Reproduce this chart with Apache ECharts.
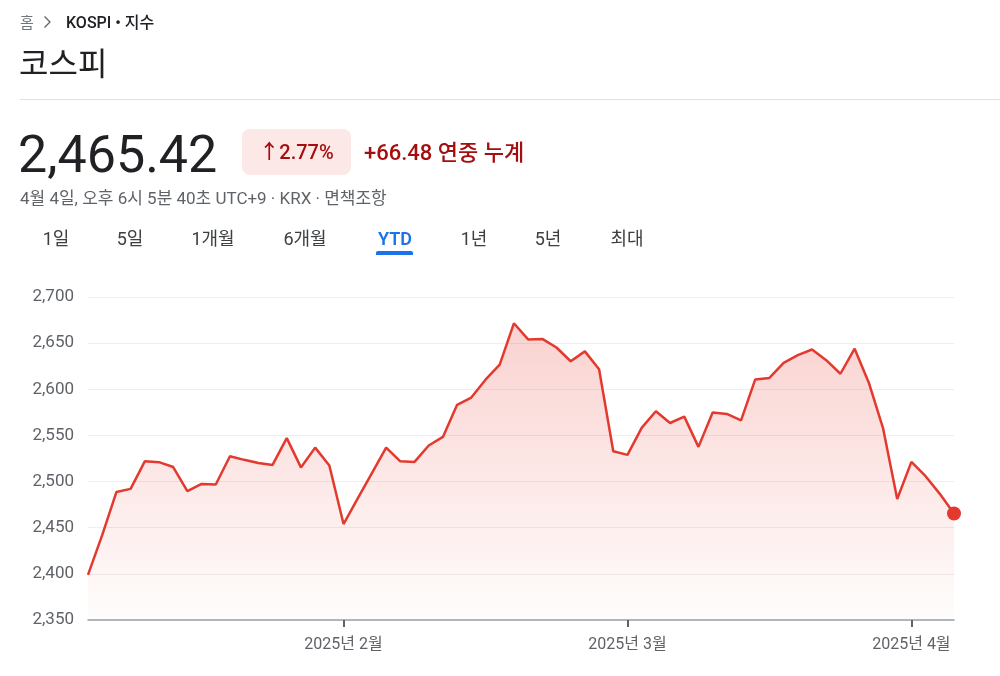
<!DOCTYPE html>
<html>
<head>
<meta charset="utf-8">
<script src="https://cdn.jsdelivr.net/npm/echarts@6/dist/echarts.min.js"></script>
<style>
html,body{margin:0;padding:0;background:#fff;}
#chart{width:1000px;height:676px;}
</style>
</head>
<body>
<div id="chart"></div>
<script>
// Trading days (YTD 2025, KOSPI)
const dates = [
  '2025-01-02','2025-01-03','2025-01-06','2025-01-07','2025-01-08','2025-01-09','2025-01-10','2025-01-13','2025-01-14','2025-01-15',
  '2025-01-16','2025-01-17','2025-01-20','2025-01-21','2025-01-22','2025-01-23','2025-01-24','2025-01-31',
  '2025-02-03','2025-02-04','2025-02-05','2025-02-06','2025-02-07','2025-02-10','2025-02-11','2025-02-12','2025-02-13','2025-02-14',
  '2025-02-17','2025-02-18','2025-02-19','2025-02-20','2025-02-21','2025-02-24','2025-02-25','2025-02-26','2025-02-27','2025-02-28',
  '2025-03-04','2025-03-05','2025-03-06','2025-03-07','2025-03-10','2025-03-11','2025-03-12','2025-03-13','2025-03-14',
  '2025-03-17','2025-03-18','2025-03-19','2025-03-20','2025-03-21','2025-03-24','2025-03-25','2025-03-26','2025-03-27','2025-03-28','2025-03-31',
  '2025-04-01','2025-04-02','2025-04-03','2025-04-04'
];
// Closing values
const closes = [
  2398.94,2441.92,2488.64,2492.10,2521.90,2521.05,2515.78,2489.56,2497.42,2496.81,
  2527.49,2523.55,2520.05,2518.03,2547.06,2515.35,2536.80,2517.37,
  2453.95,2481.69,2509.27,2536.75,2521.92,2521.27,2539.05,2548.39,2583.17,2591.05,
  2610.42,2626.81,2671.52,2654.06,2654.58,2645.27,2630.37,2641.09,2621.75,2532.78,
  2528.92,2558.13,2576.16,2563.48,2570.39,2537.60,2574.82,2573.34,2566.36,
  2610.69,2612.34,2628.62,2637.10,2643.13,2631.56,2616.84,2643.94,2607.15,2557.98,2481.12,
  2521.39,2505.86,2486.70,2465.42
];
// Y axis range / ticks
const yMin = 2350, yMax = 2700, yStep = 50;
// Header texts
const breadcrumbHome = '홈';
const breadcrumbSymbol = 'KOSPI • 지수';
const titleText = '코스피';
const priceText = '2,465.42';
const changePctText = '↑2.77%';
const changeAbsText = '+66.48 연중 누계';
const timestampText = '4월 4일, 오후 6시 5분 40초 UTC+9 · KRX · 면책조항';
const tabs = ['1일','5일','1개월','6개월','YTD','1년','5년','최대'];
const tabCenters = [56,130,213,305,395,474,548,627];
const activeTab = 'YTD';

const RED = '#e3392e';
const DARK_RED = '#a50e0e';
const FONT = "Roboto, 'Noto Sans CJK KR', sans-serif";

const chart = echarts.init(document.getElementById('chart'), null, {renderer: 'canvas'});

const isMonthStart = (idx) => idx > 0 && dates[idx].slice(5,7) !== dates[idx-1].slice(5,7);

const seriesData = closes.map((v, i) => i === closes.length - 1
  ? {value: v, symbol: 'circle', symbolSize: 14, itemStyle: {color: RED}}
  : {value: v, symbol: 'none'});

const graphics = [
  {type:'text', x:20, y:24, style:{text:breadcrumbHome, font:"15px "+FONT, fill:'#70757a', verticalAlign:'middle'}},
  {type:'polyline', shape:{points:[[44.5,16.5],[50,22],[44.5,27.5]]}, style:{stroke:'#5f6368', lineWidth:1.3, fill:null}},
  {type:'text', x:66, y:24, style:{text:breadcrumbSymbol, font:"500 16px "+FONT, fill:'#202124', verticalAlign:'middle', letterSpacing:0.5}},
  {type:'text', x:19, y:67, style:{text:titleText, font:"32px "+FONT, fill:'#202124', verticalAlign:'middle'}},
  {type:'line', shape:{x1:20, y1:99.5, x2:1000, y2:99.5}, style:{stroke:'#e0e0e0', lineWidth:1}},
  {type:'text', x:18, y:159, style:{text:priceText, font:"52px "+FONT, fill:'#202124', verticalAlign:'middle'}},
  {type:'rect', shape:{x:242, y:129, width:109, height:46, r:8}, style:{fill:'#fce8e6'}},
  {type:'text', x:296.5, y:154, style:{text:changePctText, font:"500 20px "+FONT, fill:DARK_RED, align:'center', verticalAlign:'middle'}},
  {type:'text', x:364, y:154, style:{text:changeAbsText, font:"500 22px "+FONT, fill:DARK_RED, align:'left', verticalAlign:'middle'}},
  {type:'text', x:20, y:200, style:{text:timestampText, font:"17px "+FONT, fill:'#5f6368', align:'left', verticalAlign:'middle'}},
  {type:'rect', shape:{x:376, y:251, width:37, height:4, r:[2,2,0,0]}, style:{fill:'#1a73e8'}}
];
tabs.forEach((t, i) => {
  const active = t === activeTab;
  graphics.push({type:'text', x:tabCenters[i], y:240, style:{text:t, font:(active?'600 ':'400 ')+"18px "+FONT, fill: active?'#1a73e8':'#3c4043', align:'center', verticalAlign:'middle'}});
});

chart.setOption({
  animation: false,
  backgroundColor: '#fff',
  graphic: graphics,
  grid: {left: 88, right: 46, top: 297, bottom: 56, containLabel: false},
  xAxis: {
    type: 'category',
    data: dates,
    boundaryGap: false,
    axisLine: {show: true, lineStyle: {color: '#9aa0a6', width: 1.5}},
    axisTick: {show: true, interval: (idx) => isMonthStart(idx), length: 7, lineStyle: {color: '#5f6368', width: 2}},
    axisLabel: {
      interval: (idx) => isMonthStart(idx),
      formatter: (v) => v.slice(0,4) + '년 ' + (+v.slice(5,7)) + '월',
      color: '#5f6368', fontSize: 16, fontFamily: FONT, margin: 17
    },
    splitLine: {show: false}
  },
  yAxis: {
    type: 'value',
    min: yMin, max: yMax, interval: yStep,
    axisLine: {show: false},
    axisTick: {show: false},
    axisLabel: {formatter: (v) => v.toLocaleString('en-US'), color: '#5f6368', fontSize: 17, fontFamily: FONT, margin: 14},
    splitLine: {show: true, lineStyle: {color: '#eeeeee', width: 1}}
  },
  series: [{
    type: 'line',
    data: seriesData,
    showSymbol: true,
    showAllSymbol: true,
    symbol: 'none',
    lineStyle: {color: RED, width: 2.5},
    itemStyle: {color: RED},
    areaStyle: {
      color: new echarts.graphic.LinearGradient(0, 0, 0, 1, [
        {offset: 0, color: 'rgba(229,57,46,0.32)'},
        {offset: 1, color: 'rgba(229,57,46,0.02)'}
      ])
    },
    z: 3
  }]
});
</script>
</body>
</html>
